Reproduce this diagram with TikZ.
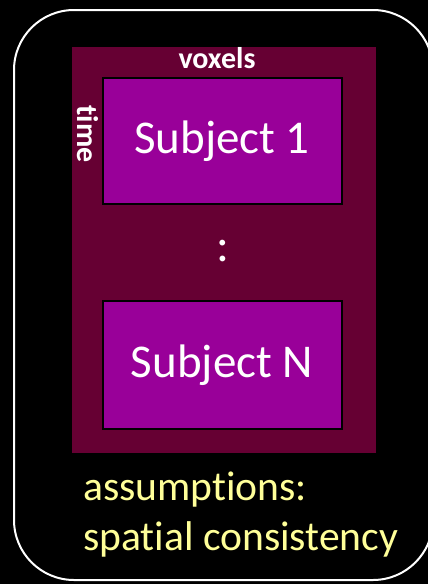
\documentclass[tikz,border=0pt]{standalone}
\usepackage{fontspec}
\setmainfont[RawFeature=-liga]{Carlito}
\definecolor{maroonbg}{HTML}{660033}
\definecolor{subjfill}{HTML}{990099}
\definecolor{notecol}{HTML}{FFFF99}
\begin{document}
\begin{tikzpicture}[x=1pt,y=-1pt,
  subjbox/.style={draw=black,line width=2pt,fill=subjfill},
  subjtext/.style={text=white,font=\fontsize{47}{56}\selectfont,anchor=base,inner sep=0pt},
  axislabel/.style={text=white,font=\fontsize{30}{36}\selectfont\bfseries,inner sep=0pt},
  notetext/.style={text=notecol,font=\fontsize{41.6}{50}\selectfont,anchor=base west,inner sep=0pt}]
  % page and frame
  \fill[black] (0,0) rectangle (428,584);
  \useasboundingbox (0,0) rectangle (428,584);
  \draw[white,line width=2pt,rounded corners=60pt] (14,10) rectangle (433,580);
  % data matrix
  \fill[maroonbg] (72,47) rectangle (376,453);
  \draw[subjbox] (103,78) rectangle (342,204);
  \draw[subjbox] (103,301) rectangle (342,429);
  \node[subjtext] (s1) at (222,153) {Subject 1};
  \node[subjtext] (sn) at (222,377) {Subject N};
  \node[axislabel,anchor=base] (vox) at (217,68) {voxels};
  \node[axislabel,rotate=-90] (time) at (88,134) {time};
  \node[text=white,font=\fontsize{48}{56}\selectfont,inner sep=0pt] (dots) at (223,251) {:};
  % note below
  \node[notetext] (a1) at (83,500) {assumptions:};
  \node[notetext] (a2) at (83,550) {spatial consistency};
\end{tikzpicture}
\end{document}
